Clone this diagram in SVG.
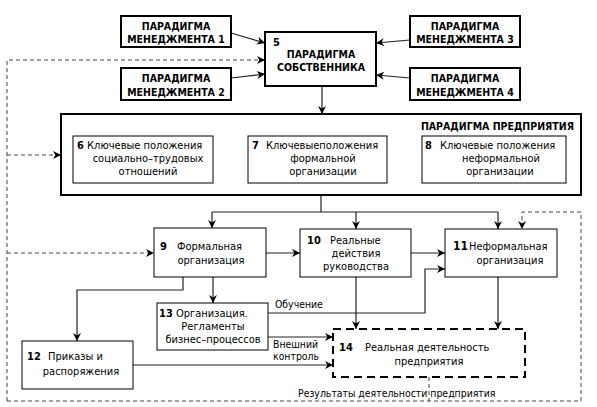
<svg xmlns="http://www.w3.org/2000/svg" width="597" height="407" viewBox="0 0 597 407">
<style>
text{font-family:"DejaVu Sans Condensed","DejaVu Sans","Noto Sans",sans-serif;font-stretch:condensed;font-size:11px;fill:#000}
.b{font-weight:bold}
.h{font-weight:bold;font-size:10.5px}
.c{text-anchor:middle}
.lb{font-size:10.4px}
.box{fill:#fff;stroke:#000;stroke-width:1}
.thick{fill:#fff;stroke:#000;stroke-width:2}
.dbox{fill:#fff;stroke:#000;stroke-width:2;stroke-dasharray:8 5}
.ln{fill:none;stroke:#222;stroke-width:1.2}
.dl{fill:none;stroke:#444;stroke-width:1;stroke-dasharray:4 3}
</style>
<defs>
<marker id="a" viewBox="0 0 10 10" refX="10" refY="5" markerWidth="9" markerHeight="8" markerUnits="userSpaceOnUse" orient="auto"><path d="M0,0 L10,5 L0,10 L3,5 z" fill="#000"/></marker>
</defs>
<rect width="597" height="407" fill="#fff"/>

<g id="connectors">
<path class="ln" d="M231,33 L265,43" marker-end="url(#a)"/>
<path class="ln" d="M231,78 L265,74" marker-end="url(#a)"/>
<path class="ln" d="M410,40 L376,43" marker-end="url(#a)"/>
<path class="ln" d="M410,78 L376,75" marker-end="url(#a)"/>
<path class="ln" d="M322,86 V114" marker-end="url(#a)"/>
<path class="ln" d="M213,158 H248" marker-end="url(#a)"/>
<path class="ln" d="M213,148 H238 V126 H395 V147 H422" marker-end="url(#a)"/>
<path class="ln" d="M387,157 H422" marker-end="url(#a)"/>
<path class="ln" d="M321,195 V212 M212,212 H498"/>
<path class="ln" d="M212,212 V228" marker-end="url(#a)"/>
<path class="ln" d="M356,212 V229" marker-end="url(#a)"/>
<path class="ln" d="M498,212 V229" marker-end="url(#a)"/>
<path class="ln" d="M266,253 H300" marker-end="url(#a)"/>
<path class="ln" d="M411,253 H445" marker-end="url(#a)"/>
<path class="ln" d="M183,277 V290 H77 V341" marker-end="url(#a)"/>
<path class="ln" d="M213,277 V303" marker-end="url(#a)"/>
<path class="ln" d="M268,337 H333" marker-end="url(#a)"/>
<path class="ln" d="M133,365 H333" marker-end="url(#a)"/>
<path class="ln" d="M268,313 H425 V269 H445" marker-end="url(#a)"/>
<path class="ln" d="M356,277 V329" marker-end="url(#a)"/>
<path class="ln" d="M498,277 V329" marker-end="url(#a)"/>
<path class="dl" d="M429,377 V401 M7,401 H581"/>
<path class="dl" d="M7,401 V60 H265" marker-end="url(#a)"/>
<path class="dl" d="M7,155 H61" marker-end="url(#a)"/>
<path class="dl" d="M7,253 H154" marker-end="url(#a)"/>
<path class="dl" d="M581,401 V212 H522 V229" marker-end="url(#a)"/>
<text class="lb" x="275" y="308">Обучение</text>
<text class="lb" x="273" y="348">Внешний</text>
<text class="lb" x="273" y="360">контроль</text>
<text class="lb" x="298" y="397">Результаты деятельности предприятия</text>
</g>

<g id="pm1"><rect class="thick" x="121" y="16" width="110" height="31"/>
<text class="h c" x="176" y="30">ПАРАДИГМА</text><text class="h c" x="176" y="43">МЕНЕДЖМЕНТА 1</text></g>
<g id="pm2"><rect class="thick" x="121" y="68" width="110" height="32"/>
<text class="h c" x="176" y="82">ПАРАДИГМА</text><text class="h c" x="176" y="96">МЕНЕДЖМЕНТА 2</text></g>
<g id="pm3"><rect class="thick" x="410" y="16" width="110" height="31"/>
<text class="h c" x="465" y="30">ПАРАДИГМА</text><text class="h c" x="465" y="43">МЕНЕДЖМЕНТА 3</text></g>
<g id="pm4"><rect class="thick" x="410" y="68" width="110" height="32"/>
<text class="h c" x="465" y="82">ПАРАДИГМА</text><text class="h c" x="465" y="96">МЕНЕДЖМЕНТА 4</text></g>

<g id="n5"><rect class="thick" x="265" y="32" width="111" height="54"/>
<text class="b" x="273" y="46">5</text>
<text class="h c" x="321" y="58">ПАРАДИГМА</text><text class="h c" x="321" y="71">СОБСТВЕННИКА</text></g>

<g id="enterprise"><rect class="thick" x="61" y="114" width="520" height="81" fill="none"/>
<text class="h" x="574" y="130" text-anchor="end">ПАРАДИГМА ПРЕДПРИЯТИЯ</text></g>

<g id="n6"><rect class="box" x="73" y="136" width="140" height="47"/>
<text x="77" y="149"><tspan class="b">6</tspan> Ключевые положения</text>
<text class="c" x="148" y="162">социально–трудовых</text><text class="c" x="148" y="175">отношений</text></g>

<g id="n7"><rect class="box" x="248" y="136" width="139" height="47"/>
<text class="b" x="252" y="149">7</text><text x="266" y="149">Ключевыеположения</text>
<text class="c" x="323" y="162">формальной</text><text class="c" x="323" y="175">организации</text></g>

<g id="n8"><rect class="box" x="422" y="136" width="144" height="47"/>
<text class="b" x="425" y="149">8</text><text x="440" y="149">Ключевые положения</text>
<text class="c" x="501" y="162">неформальной</text><text class="c" x="500" y="175">организации</text></g>

<g id="n9"><rect class="box" x="154" y="228" width="112" height="49"/>
<text class="b" x="160" y="250">9</text><text x="177" y="250">Формальная</text>
<text class="c" x="211" y="264">организация</text></g>

<g id="n10"><rect class="box" x="300" y="229" width="111" height="48"/>
<text class="b" x="307" y="244">10</text><text x="330" y="244">Реальные</text>
<text class="c" x="356" y="257">действия</text><text class="c" x="356" y="270">руководства</text></g>

<g id="n11"><rect class="box" x="445" y="229" width="112" height="48"/>
<text class="b" x="453" y="250" style="font-size:12px">11</text><text x="469" y="250">Неформальная</text>
<text class="c" x="510" y="264">организация</text></g>

<g id="n12"><rect class="box" x="22" y="341" width="111" height="48"/>
<text class="b" x="27" y="360">12</text><text x="48" y="360">Приказы и</text>
<text class="c" x="81" y="375">распоряжения</text></g>

<g id="n13"><rect class="box" x="157" y="303" width="111" height="47"/>
<text x="159" y="317"><tspan class="b">13</tspan> Организация.</text>
<text class="c" x="213" y="330">Регламенты</text><text class="c" x="213" y="343">бизнес–процессов</text></g>

<g id="n14"><rect class="dbox" x="333" y="329" width="192" height="48"/>
<text class="b" x="339" y="351">14</text><text x="365" y="351">Реальная деятельность</text>
<text class="c" x="429" y="365">предприятия</text></g>
</svg>
